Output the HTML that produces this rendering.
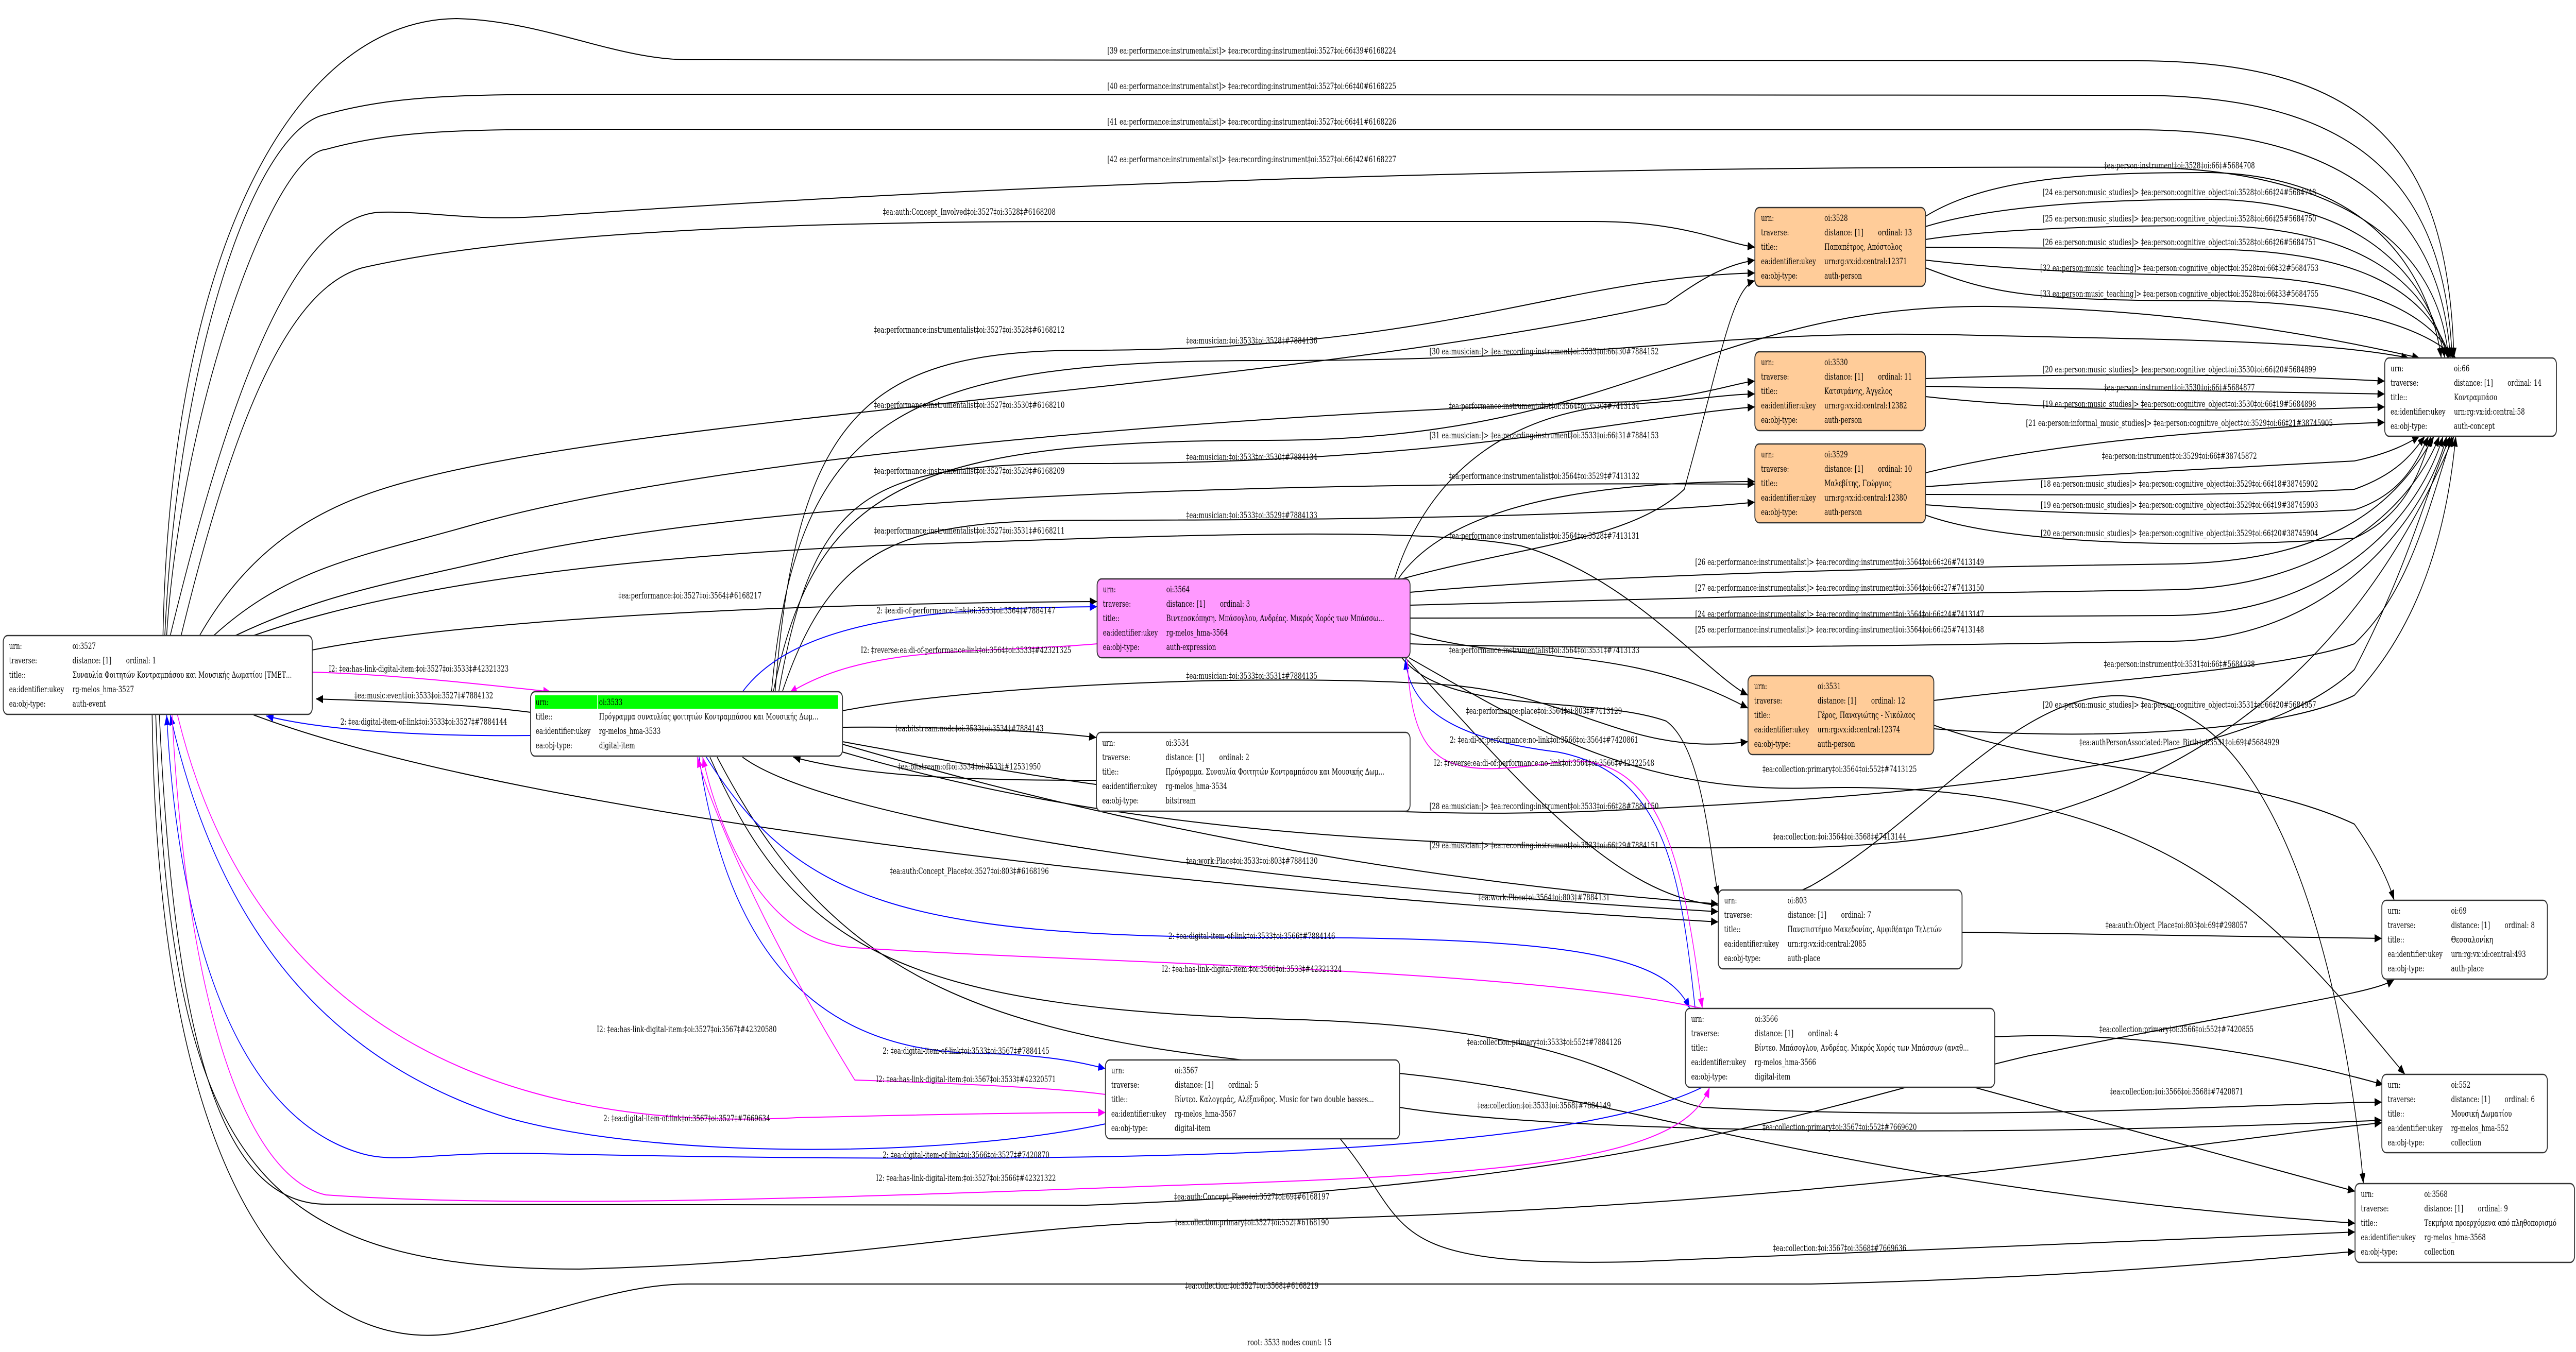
<!DOCTYPE html>
<html><head><meta charset="utf-8">
<style>
html,body{margin:0;padding:0;background:#fff;width:100%;height:100%;overflow:hidden;}
svg{display:block;width:100vw;height:100vh;}
text{font-family:"DejaVu Serif","Liberation Serif",serif;font-size:17px;fill:#000;}
.l{text-anchor:middle;}
.e{fill:none;stroke:#000;stroke-width:2;}
.b{fill:none;stroke:#0000ff;stroke-width:2;}
.m{fill:none;stroke:#ff00ff;stroke-width:2;}
.n{stroke:#333;stroke-width:2.5;}
</style></head><body>
<svg viewBox="0 0 7112 2625" preserveAspectRatio="none" xmlns="http://www.w3.org/2000/svg">
<defs>
<marker id="ak" markerUnits="userSpaceOnUse" markerWidth="22" markerHeight="16" refX="20" refY="8" orient="auto"><path d="M0,0 L20,8 L0,16 z" fill="#000"/></marker>
<marker id="ab" markerUnits="userSpaceOnUse" markerWidth="22" markerHeight="16" refX="20" refY="8" orient="auto"><path d="M0,0 L20,8 L0,16 z" fill="#00f"/></marker>
<marker id="am" markerUnits="userSpaceOnUse" markerWidth="22" markerHeight="16" refX="20" refY="8" orient="auto"><path d="M0,0 L20,8 L0,16 z" fill="#f0f"/></marker>
</defs>

<g marker-end="url(#ak)">
<path class="e" d="M450 1234 C470 500 800 40 1260 36 C1500 40 1700 116 1900 116 L5900 118 C6550 118 6760 300 6775 695"/>
<path class="e" d="M455 1234 C490 700 700 250 900 222 C1100 183 1300 183 1700 183 L5900 185 C6500 185 6750 350 6770 695"/>
<path class="e" d="M460 1234 C500 800 750 300 900 290 C1100 251 1300 251 1700 251 L5900 252 C6450 252 6740 400 6765 695"/>
<path class="e" d="M470 1234 C620 800 800 420 1050 412 C1200 410 1300 430 1500 420 C2500 370 4000 320 5900 325 C6400 325 6730 450 6760 695"/>
<path class="e" d="M500 1234 C650 800 800 560 1000 520 C1500 440 2400 430 3000 430 L4400 430 C4650 430 4750 470 4845 480"/>
<path class="e" d="M551 1234 C700 1050 900 980 1100 940 C1800 800 3500 760 4600 590 C4700 540 4760 515 4845 505"/>
<path class="e" d="M590 1234 C800 1100 1000 1080 1300 1020 C2000 880 3500 800 4500 780 C4700 770 4780 745 4845 740"/>
<path class="e" d="M650 1234 C900 1150 1100 1130 1400 1080 C2200 960 3500 935 4845 940"/>
<path class="e" d="M700 1234 C1000 1160 1500 1090 2400 1060 C3200 1040 3900 1020 4200 1060 C4500 1120 4700 1300 4826 1350"/>
<path class="e" d="M862 1262 C1400 1190 2400 1170 3029 1168"/>
<path class="e" d="M1465 1383 C1300 1368 1100 1362 872 1357"/>
<path class="e" d="M2140 1343 C2200 800 2400 680 3000 680 C4000 680 4300 540 4845 530"/>
<path class="e" d="M2150 1343 C2250 950 2400 900 3000 900 C4000 900 4500 810 4845 790"/>
<path class="e" d="M2160 1343 C2300 1050 2500 1010 3000 1010 C3800 1010 4500 1000 4845 975"/>
<path class="e" d="M2326 1380 C2700 1330 3500 1305 4000 1330 C4350 1350 4500 1470 4826 1440"/>
<path class="e" d="M2130 1343 C2200 800 2500 700 3500 700 C4500 700 4700 640 5400 650 C6000 660 6400 660 6650 695"/>
<path class="e" d="M2135 1343 C2250 950 2500 855 3500 855 C4500 855 4700 590 5500 595 C6000 600 6400 650 6680 695"/>
<path class="e" d="M3850 1124 C3950 900 4200 795 4500 785 C4700 775 4780 765 4845 765"/>
<path class="e" d="M3860 1124 C4000 980 4400 935 4845 935"/>
<path class="e" d="M3870 1124 C4200 1060 4500 1050 4650 950 C4750 700 4780 560 4845 545"/>
<path class="e" d="M3893 1230 C4200 1290 4500 1250 4826 1375"/>
<path class="e" d="M3893 1150 C4500 1110 5500 1100 6000 1095 C6400 1090 6600 1000 6720 847"/>
<path class="e" d="M3893 1175 C4500 1160 5500 1150 6000 1145 C6400 1140 6650 1000 6735 847"/>
<path class="e" d="M3893 1200 C4500 1200 5500 1200 6000 1195 C6450 1190 6680 1000 6745 847"/>
<path class="e" d="M3893 1250 C4500 1265 5500 1250 6000 1245 C6450 1240 6700 1000 6755 847"/>
<path class="e" d="M2326 1412 C2600 1410 2900 1420 3027 1432"/>
<path class="e" d="M3027 1515 C2700 1515 2400 1510 2190 1470"/>
<path class="e" d="M3870 1277 C4000 1390 4400 1350 4600 1400 C4700 1450 4720 1650 4744 1740"/>
<path class="e" d="M2326 1440 C2800 1500 3500 1600 4400 1575 C5200 1550 6200 1500 6500 1300 C6650 1100 6700 950 6765 847"/>
<path class="e" d="M2326 1460 C3000 1600 3800 1655 5000 1645 C6000 1630 6500 1300 6775 847"/>
<path class="e" d="M3890 1277 C4200 1400 4500 1540 5000 1530 C6000 1510 6300 1800 6640 2086"/>
<path class="e" d="M3880 1277 C4300 1600 4600 1860 5000 1720 C5400 1560 5700 1200 6100 1420 C6400 1600 6500 2100 6525 2298"/>
<path class="e" d="M2326 1445 C2600 1500 3500 1690 4744 1755"/>
<path class="e" d="M700 1388 C1500 1600 3500 1740 4744 1790"/>
<path class="e" d="M2050 1470 C2300 1600 3500 1720 4744 1770"/>
<path class="e" d="M1960 1470 C2200 1850 2500 1960 3600 1980 C4400 2000 4500 2120 4700 2150 C5500 2180 6300 2140 6576 2140"/>
<path class="e" d="M1980 1470 C2300 1900 2700 2030 3800 2080 C4500 2120 5000 2300 6502 2375"/>
<path class="e" d="M440 1388 C480 2000 600 2338 900 2338 L3000 2340 C4500 2300 5000 2150 5600 2050 C6300 1950 6550 1930 6610 1902"/>
<path class="e" d="M430 1388 C470 2250 700 2464 1600 2464 C2400 2450 2800 2370 3400 2370 C5000 2350 6000 2220 6576 2180"/>
<path class="e" d="M420 1388 C440 2400 900 2620 1240 2590 C1500 2560 1700 2493 1900 2493 L5000 2493 C5800 2480 6300 2440 6502 2430"/>
<path class="e" d="M3864 2150 C4300 2200 5500 2210 6576 2175"/>
<path class="e" d="M3700 2211 C3900 2380 3800 2460 4500 2450 C5500 2420 6200 2400 6502 2392"/>
<path class="e" d="M5507 2013 C5900 2000 6300 2050 6580 2106"/>
<path class="e" d="M5450 2111 L6502 2313"/>
<path class="e" d="M5417 1810 L6576 1822"/>
<path class="e" d="M5339 1408 C5700 1500 6200 1500 6500 1600 C6550 1650 6590 1700 6610 1748"/>
<path class="e" d="M5339 1360 C5800 1320 6300 1300 6500 1250 C6650 1150 6700 1000 6770 847"/>
<path class="e" d="M5339 1415 C5800 1440 6300 1420 6500 1350 C6700 1200 6760 1000 6780 847"/>
<path class="e" d="M5316 420 C5500 340 5800 335 6100 335 C6500 340 6700 500 6740 695"/>
<path class="e" d="M5316 440 C5500 400 5800 387 6100 387 C6500 390 6700 520 6750 695"/>
<path class="e" d="M5316 465 C5500 445 5800 438 6100 438 C6500 440 6700 540 6758 695"/>
<path class="e" d="M5316 480 C5500 482 5800 484 6100 484 C6500 486 6700 560 6765 695"/>
<path class="e" d="M5316 505 C5500 520 5800 534 6100 534 C6500 536 6700 600 6772 695"/>
<path class="e" d="M5316 520 C5500 570 5600 584 6100 584 C6500 586 6700 640 6780 695"/>
<path class="e" d="M5316 735 C5700 725 6200 725 6584 740"/>
<path class="e" d="M5316 750 L6584 765"/>
<path class="e" d="M5316 770 C5700 800 6200 800 6584 790"/>
<path class="e" d="M5316 918 C5600 870 6000 835 6584 820"/>
<path class="e" d="M5316 945 C5700 925 6100 910 6500 895 C6600 880 6650 860 6680 847"/>
<path class="e" d="M5316 960 C5700 960 6100 965 6500 950 C6620 920 6660 880 6695 847"/>
<path class="e" d="M5316 980 C5700 1000 6100 1005 6500 990 C6630 960 6670 900 6705 847"/>
<path class="e" d="M5316 1000 C5550 1060 6100 1065 6500 1045 C6640 1000 6680 920 6712 847"/>
</g>

<g marker-end="url(#ab)">
<path class="b" d="M1465 1428 C1200 1430 900 1420 735 1390"/>
<path class="b" d="M2050 1343 C2200 1200 2600 1180 3029 1178"/>
<path class="b" d="M4680 1958 C4640 1700 4600 1500 4300 1460 C3950 1430 3890 1350 3880 1280"/>
<path class="b" d="M1950 1470 C2200 1750 2500 1820 3500 1820 C4300 1820 4600 1850 4665 1958"/>
<path class="b" d="M1930 1470 C2000 1800 2200 2040 2700 2045 C2900 2048 3000 2065 3052 2075"/>
<path class="b" d="M3052 2182 C2600 2250 1800 2250 1400 2170 C900 2060 600 1800 470 1388"/>
<path class="b" d="M4700 2111 C4300 2250 3000 2262 1500 2240 C1200 2235 1100 2260 1000 2240 C700 2180 500 1900 460 1388"/>
</g>
<g marker-end="url(#am)">
<path class="m" d="M862 1305 C1100 1310 1350 1330 1520 1343"/>
<path class="m" d="M3029 1250 C2700 1270 2400 1250 2180 1345"/>
<path class="m" d="M3885 1280 C3900 1500 4000 1510 4300 1480 C4600 1450 4650 1700 4700 1958"/>
<path class="m" d="M4700 1958 C4200 1880 3000 1870 2360 1840 C2100 1830 1980 1600 1940 1470"/>
<path class="m" d="M490 1388 C700 2000 1400 2200 2200 2170 C2800 2160 3000 2160 3052 2160"/>
<path class="m" d="M3052 2125 C2900 2110 2500 2100 2360 2097 C2100 1800 1960 1560 1925 1470"/>
<path class="m" d="M475 1388 C520 2000 700 2290 900 2320 C1500 2350 2500 2320 3300 2300 C4200 2280 4650 2250 4720 2111"/>
</g>

<g>
<text class="l" x="3456" y="104">[39 ea:performance:instrumentalist]&gt; ‡ea:recording:instrument‡oi:3527‡oi:66‡39#6168224</text>
<text class="l" x="3456" y="173">[40 ea:performance:instrumentalist]&gt; ‡ea:recording:instrument‡oi:3527‡oi:66‡40#6168225</text>
<text class="l" x="3456" y="242">[41 ea:performance:instrumentalist]&gt; ‡ea:recording:instrument‡oi:3527‡oi:66‡41#6168226</text>
<text class="l" x="3456" y="315">[42 ea:performance:instrumentalist]&gt; ‡ea:recording:instrument‡oi:3527‡oi:66‡42#6168227</text>
<text class="l" x="2676" y="417">‡ea:auth:Concept_Involved‡oi:3527‡oi:3528‡#6168208</text>
<text class="l" x="2676" y="646">‡ea:performance:instrumentalist‡oi:3527‡oi:3528‡#6168212</text>
<text class="l" x="2676" y="792">‡ea:performance:instrumentalist‡oi:3527‡oi:3530‡#6168210</text>
<text class="l" x="2676" y="920">‡ea:performance:instrumentalist‡oi:3527‡oi:3529‡#6168209</text>
<text class="l" x="2676" y="1036">‡ea:performance:instrumentalist‡oi:3527‡oi:3531‡#6168211</text>
<text class="l" x="1905" y="1162">‡ea:performance:‡oi:3527‡oi:3564‡#6168217</text>
<text class="l" x="1156" y="1304">I2: ‡ea:has-link-digital-item:‡oi:3527‡oi:3533‡#42321323</text>
<text class="l" x="1170" y="1356">‡ea:music:event‡oi:3533‡oi:3527‡#7884132</text>
<text class="l" x="1170" y="1407">2: ‡ea:digital-item-of:link‡oi:3533‡oi:3527‡#7884144</text>
<text class="l" x="3456" y="667">‡ea:musician:‡oi:3533‡oi:3528‡#7884136</text>
<text class="l" x="3456" y="893">‡ea:musician:‡oi:3533‡oi:3530‡#7884134</text>
<text class="l" x="3456" y="1006">‡ea:musician:‡oi:3533‡oi:3529‡#7884133</text>
<text class="l" x="3456" y="1318">‡ea:musician:‡oi:3533‡oi:3531‡#7884135</text>
<text class="l" x="4263" y="688">[30 ea:musician:]&gt; ‡ea:recording:instrument‡oi:3533‡oi:66‡30#7884152</text>
<text class="l" x="4263" y="851">[31 ea:musician:]&gt; ‡ea:recording:instrument‡oi:3533‡oi:66‡31#7884153</text>
<text class="l" x="4263" y="794">‡ea:performance:instrumentalist‡oi:3564‡oi:3530‡#7413134</text>
<text class="l" x="4263" y="930">‡ea:performance:instrumentalist‡oi:3564‡oi:3529‡#7413132</text>
<text class="l" x="4263" y="1046">‡ea:performance:instrumentalist‡oi:3564‡oi:3528‡#7413131</text>
<text class="l" x="4263" y="1268">‡ea:performance:instrumentalist‡oi:3564‡oi:3531‡#7413133</text>
<text class="l" x="2667" y="1191">2: ‡ea:di-of-performance:link‡oi:3533‡oi:3564‡#7884147</text>
<text class="l" x="2667" y="1268">I2: ‡reverse:ea:di-of-performance:link‡oi:3564‡oi:3533‡#42321325</text>
<text class="l" x="5079" y="1097">[26 ea:performance:instrumentalist]&gt; ‡ea:recording:instrument‡oi:3564‡oi:66‡26#7413149</text>
<text class="l" x="5079" y="1147">[27 ea:performance:instrumentalist]&gt; ‡ea:recording:instrument‡oi:3564‡oi:66‡27#7413150</text>
<text class="l" x="5079" y="1198">[24 ea:performance:instrumentalist]&gt; ‡ea:recording:instrument‡oi:3564‡oi:66‡24#7413147</text>
<text class="l" x="5079" y="1228">[25 ea:performance:instrumentalist]&gt; ‡ea:recording:instrument‡oi:3564‡oi:66‡25#7413148</text>
<text class="l" x="2676" y="1420">‡ea:bitstream:node‡oi:3533‡oi:3534‡#7884143</text>
<text class="l" x="2676" y="1494">‡ea:bitstream:of‡oi:3534‡oi:3533‡#12531950</text>
<text class="l" x="4263" y="1386">‡ea:performance:place‡oi:3564‡oi:803‡#7413129</text>
<text class="l" x="4263" y="1442">2: ‡ea:di-of:performance:no-link‡oi:3566‡oi:3564‡#7420861</text>
<text class="l" x="4263" y="1487">I2: ‡reverse:ea:di-of:performance:no-link‡oi:3564‡oi:3566‡#42322548</text>
<text class="l" x="4263" y="1571">[28 ea:musician:]&gt; ‡ea:recording:instrument‡oi:3533‡oi:66‡28#7884150</text>
<text class="l" x="4263" y="1647">[29 ea:musician:]&gt; ‡ea:recording:instrument‡oi:3533‡oi:66‡29#7884151</text>
<text class="l" x="5079" y="1499">‡ea:collection:primary‡oi:3564‡oi:552‡#7413125</text>
<text class="l" x="5079" y="1630">‡ea:collection:‡oi:3564‡oi:3568‡#7413144</text>
<text class="l" x="3456" y="1677">‡ea:work:Place‡oi:3533‡oi:803‡#7884130</text>
<text class="l" x="2676" y="1697">‡ea:auth:Concept_Place‡oi:3527‡oi:803‡#6168196</text>
<text class="l" x="4263" y="1748">‡ea:work:Place‡oi:3564‡oi:803‡#7884131</text>
<text class="l" x="3456" y="1823">2: ‡ea:digital-item-of:link‡oi:3533‡oi:3566‡#7884146</text>
<text class="l" x="3456" y="1887">I2: ‡ea:has-link-digital-item:‡oi:3566‡oi:3533‡#42321324</text>
<text class="l" x="4263" y="2029">‡ea:collection:primary‡oi:3533‡oi:552‡#7884126</text>
<text class="l" x="4263" y="2152">‡ea:collection:‡oi:3533‡oi:3568‡#7884149</text>
<text class="l" x="1896" y="2004">I2: ‡ea:has-link-digital-item:‡oi:3527‡oi:3567‡#42320580</text>
<text class="l" x="2667" y="2046">2: ‡ea:digital-item-of:link‡oi:3533‡oi:3567‡#7884145</text>
<text class="l" x="2667" y="2101">I2: ‡ea:has-link-digital-item:‡oi:3567‡oi:3533‡#42320571</text>
<text class="l" x="1896" y="2177">2: ‡ea:digital-item-of:link‡oi:3567‡oi:3527‡#7669634</text>
<text class="l" x="2667" y="2248">2: ‡ea:digital-item-of:link‡oi:3566‡oi:3527‡#7420870</text>
<text class="l" x="2667" y="2293">I2: ‡ea:has-link-digital-item:‡oi:3527‡oi:3566‡#42321322</text>
<text class="l" x="3456" y="2329">‡ea:auth:Concept_Place‡oi:3527‡oi:69‡#6168197</text>
<text class="l" x="3456" y="2379">‡ea:collection:primary‡oi:3527‡oi:552‡#6168190</text>
<text class="l" x="5079" y="2194">‡ea:collection:primary‡oi:3567‡oi:552‡#7669620</text>
<text class="l" x="5079" y="2429">‡ea:collection:‡oi:3567‡oi:3568‡#7669636</text>
<text class="l" x="3456" y="2502">‡ea:collection:‡oi:3527‡oi:3568‡#6168219</text>
<text class="l" x="6009" y="2004">‡ea:collection:primary‡oi:3566‡oi:552‡#7420855</text>
<text class="l" x="6009" y="2125">‡ea:collection:‡oi:3566‡oi:3568‡#7420871</text>
<text class="l" x="6009" y="1802">‡ea:auth:Object_Place‡oi:803‡oi:69‡#298057</text>
<text class="l" x="6017" y="327">‡ea:person:instrument‡oi:3528‡oi:66‡#5684708</text>
<text class="l" x="6017" y="379">[24 ea:person:music_studies]&gt; ‡ea:person:cognitive_object‡oi:3528‡oi:66‡24#5684748</text>
<text class="l" x="6017" y="430">[25 ea:person:music_studies]&gt; ‡ea:person:cognitive_object‡oi:3528‡oi:66‡25#5684750</text>
<text class="l" x="6017" y="476">[26 ea:person:music_studies]&gt; ‡ea:person:cognitive_object‡oi:3528‡oi:66‡26#5684751</text>
<text class="l" x="6017" y="526">[32 ea:person:music_teaching]&gt; ‡ea:person:cognitive_object‡oi:3528‡oi:66‡32#5684753</text>
<text class="l" x="6017" y="576">[33 ea:person:music_teaching]&gt; ‡ea:person:cognitive_object‡oi:3528‡oi:66‡33#5684755</text>
<text class="l" x="6017" y="723">[20 ea:person:music_studies]&gt; ‡ea:person:cognitive_object‡oi:3530‡oi:66‡20#5684899</text>
<text class="l" x="6017" y="758">‡ea:person:instrument‡oi:3530‡oi:66‡#5684877</text>
<text class="l" x="6017" y="790">[19 ea:person:music_studies]&gt; ‡ea:person:cognitive_object‡oi:3530‡oi:66‡19#5684898</text>
<text class="l" x="6017" y="827">[21 ea:person:informal_music_studies]&gt; ‡ea:person:cognitive_object‡oi:3529‡oi:66‡21#38745905</text>
<text class="l" x="6017" y="891">‡ea:person:instrument‡oi:3529‡oi:66‡#38745872</text>
<text class="l" x="6017" y="945">[18 ea:person:music_studies]&gt; ‡ea:person:cognitive_object‡oi:3529‡oi:66‡18#38745902</text>
<text class="l" x="6017" y="986">[19 ea:person:music_studies]&gt; ‡ea:person:cognitive_object‡oi:3529‡oi:66‡19#38745903</text>
<text class="l" x="6017" y="1041">[20 ea:person:music_studies]&gt; ‡ea:person:cognitive_object‡oi:3529‡oi:66‡20#38745904</text>
<text class="l" x="6017" y="1295">‡ea:person:instrument‡oi:3531‡oi:66‡#5684938</text>
<text class="l" x="6017" y="1374">[20 ea:person:music_studies]&gt; ‡ea:person:cognitive_object‡oi:3531‡oi:66‡20#5684957</text>
<text class="l" x="6017" y="1447">‡ea:authPersonAssociated:Place_Birth‡oi:3531‡oi:69‡#5684929</text>
<text class="l" x="3560" y="2612">root: 3533 nodes count: 15</text>
</g>

<rect class="n" x="9" y="1234" width="853" height="153" rx="12" fill="#fff"/>
<g transform="translate(25,1260)"><text y="0">urn:</text><text x="175" y="0">oi:3527</text><text y="28">traverse:</text><text x="175" y="28">distance: [1]</text><text x="323" y="28">ordinal: 1</text><text y="56">title::</text><text x="175" y="56">Συναυλία Φοιτητών Κοντραμπάσου και Μουσικής Δωματίου [ΤΜΕΤ...</text><text y="84">ea:identifier:ukey</text><text x="175" y="84">rg-melos_hma-3527</text><text y="112">ea:obj-type:</text><text x="175" y="112">auth-event</text></g>
<rect class="n" x="1465" y="1343" width="861" height="125" rx="12" fill="#fff"/>
<rect x="1477" y="1350" width="837" height="26" fill="#00ff00"/>
<line x1="1650" y1="1350" x2="1650" y2="1376" stroke="#fff" stroke-width="2"/>
<g transform="translate(1479,1369)"><text y="0">urn:</text><text x="175" y="0">oi:3533</text><text y="28">title::</text><text x="175" y="28">Πρόγραμμα συναυλίας φοιτητών Κοντραμπάσου και Μουσικής Δωμ...</text><text y="56">ea:identifier:ukey</text><text x="175" y="56">rg-melos_hma-3533</text><text y="84">ea:obj-type:</text><text x="175" y="84">digital-item</text></g>
<rect class="n" x="3029" y="1124" width="864" height="153" rx="12" fill="#ff99ff"/>
<g transform="translate(3045,1150)"><text y="0">urn:</text><text x="175" y="0">oi:3564</text><text y="28">traverse:</text><text x="175" y="28">distance: [1]</text><text x="323" y="28">ordinal: 3</text><text y="56">title::</text><text x="175" y="56">Βιντεοσκόπηση. Μπάσογλου, Ανδρέας. Μικρός Χορός των Μπάσσω...</text><text y="84">ea:identifier:ukey</text><text x="175" y="84">rg-melos_hma-3564</text><text y="112">ea:obj-type:</text><text x="175" y="112">auth-expression</text></g>
<rect class="n" x="3027" y="1422" width="866" height="153" rx="12" fill="#fff"/>
<g transform="translate(3043,1448)"><text y="0">urn:</text><text x="175" y="0">oi:3534</text><text y="28">traverse:</text><text x="175" y="28">distance: [1]</text><text x="323" y="28">ordinal: 2</text><text y="56">title::</text><text x="175" y="56">Πρόγραμμα. Συναυλία Φοιτητών Κοντραμπάσου και Μουσικής Δωμ...</text><text y="84">ea:identifier:ukey</text><text x="175" y="84">rg-melos_hma-3534</text><text y="112">ea:obj-type:</text><text x="175" y="112">bitstream</text></g>
<rect class="n" x="3052" y="2058" width="812" height="153" rx="12" fill="#fff"/>
<g transform="translate(3068,2084)"><text y="0">urn:</text><text x="175" y="0">oi:3567</text><text y="28">traverse:</text><text x="175" y="28">distance: [1]</text><text x="323" y="28">ordinal: 5</text><text y="56">title::</text><text x="175" y="56">Βίντεο. Καλογεράς, Αλέξανδρος. Music for two double basses...</text><text y="84">ea:identifier:ukey</text><text x="175" y="84">rg-melos_hma-3567</text><text y="112">ea:obj-type:</text><text x="175" y="112">digital-item</text></g>
<rect class="n" x="4845" y="403" width="471" height="153" rx="12" fill="#ffcc99"/>
<g transform="translate(4862,429)"><text y="0">urn:</text><text x="175" y="0">oi:3528</text><text y="28">traverse:</text><text x="175" y="28">distance: [1]</text><text x="323" y="28">ordinal: 13</text><text y="56">title::</text><text x="175" y="56">Παπαπέτρος, Απόστολος</text><text y="84">ea:identifier:ukey</text><text x="175" y="84">urn:rg:vx:id:central:12371</text><text y="112">ea:obj-type:</text><text x="175" y="112">auth-person</text></g>
<rect class="n" x="4845" y="683" width="471" height="153" rx="12" fill="#ffcc99"/>
<g transform="translate(4862,709)"><text y="0">urn:</text><text x="175" y="0">oi:3530</text><text y="28">traverse:</text><text x="175" y="28">distance: [1]</text><text x="323" y="28">ordinal: 11</text><text y="56">title::</text><text x="175" y="56">Κατσιμάνης, Άγγελος</text><text y="84">ea:identifier:ukey</text><text x="175" y="84">urn:rg:vx:id:central:12382</text><text y="112">ea:obj-type:</text><text x="175" y="112">auth-person</text></g>
<rect class="n" x="4845" y="862" width="471" height="153" rx="12" fill="#ffcc99"/>
<g transform="translate(4862,888)"><text y="0">urn:</text><text x="175" y="0">oi:3529</text><text y="28">traverse:</text><text x="175" y="28">distance: [1]</text><text x="323" y="28">ordinal: 10</text><text y="56">title::</text><text x="175" y="56">Μαλεβίτης, Γεώργιος</text><text y="84">ea:identifier:ukey</text><text x="175" y="84">urn:rg:vx:id:central:12380</text><text y="112">ea:obj-type:</text><text x="175" y="112">auth-person</text></g>
<rect class="n" x="4826" y="1312" width="513" height="153" rx="12" fill="#ffcc99"/>
<g transform="translate(4843,1338)"><text y="0">urn:</text><text x="175" y="0">oi:3531</text><text y="28">traverse:</text><text x="175" y="28">distance: [1]</text><text x="323" y="28">ordinal: 12</text><text y="56">title::</text><text x="175" y="56">Γέρος, Παναγιώτης - Νικόλαος</text><text y="84">ea:identifier:ukey</text><text x="175" y="84">urn:rg:vx:id:central:12374</text><text y="112">ea:obj-type:</text><text x="175" y="112">auth-person</text></g>
<rect class="n" x="4744" y="1728" width="673" height="153" rx="12" fill="#fff"/>
<g transform="translate(4760,1754)"><text y="0">urn:</text><text x="175" y="0">oi:803</text><text y="28">traverse:</text><text x="175" y="28">distance: [1]</text><text x="323" y="28">ordinal: 7</text><text y="56">title::</text><text x="175" y="56">Πανεπιστήμιο Μακεδονίας, Αμφιθέατρο Τελετών</text><text y="84">ea:identifier:ukey</text><text x="175" y="84">urn:rg:vx:id:central:2085</text><text y="112">ea:obj-type:</text><text x="175" y="112">auth-place</text></g>
<rect class="n" x="4653" y="1958" width="854" height="153" rx="12" fill="#fff"/>
<g transform="translate(4669,1984)"><text y="0">urn:</text><text x="175" y="0">oi:3566</text><text y="28">traverse:</text><text x="175" y="28">distance: [1]</text><text x="323" y="28">ordinal: 4</text><text y="56">title::</text><text x="175" y="56">Βίντεο. Μπάσογλου, Ανδρέας. Μικρός Χορός των Μπάσσων (αναθ...</text><text y="84">ea:identifier:ukey</text><text x="175" y="84">rg-melos_hma-3566</text><text y="112">ea:obj-type:</text><text x="175" y="112">digital-item</text></g>
<rect class="n" x="6584" y="695" width="474" height="152" rx="12" fill="#fff"/>
<g transform="translate(6600,721)"><text y="0">urn:</text><text x="175" y="0">oi:66</text><text y="28">traverse:</text><text x="175" y="28">distance: [1]</text><text x="323" y="28">ordinal: 14</text><text y="56">title::</text><text x="175" y="56">Κοντραμπάσο</text><text y="84">ea:identifier:ukey</text><text x="175" y="84">urn:rg:vx:id:central:58</text><text y="112">ea:obj-type:</text><text x="175" y="112">auth-concept</text></g>
<rect class="n" x="6576" y="1748" width="457" height="153" rx="12" fill="#fff"/>
<g transform="translate(6592,1774)"><text y="0">urn:</text><text x="175" y="0">oi:69</text><text y="28">traverse:</text><text x="175" y="28">distance: [1]</text><text x="323" y="28">ordinal: 8</text><text y="56">title::</text><text x="175" y="56">Θεσσαλονίκη</text><text y="84">ea:identifier:ukey</text><text x="175" y="84">urn:rg:vx:id:central:493</text><text y="112">ea:obj-type:</text><text x="175" y="112">auth-place</text></g>
<rect class="n" x="6576" y="2086" width="457" height="152" rx="12" fill="#fff"/>
<g transform="translate(6592,2112)"><text y="0">urn:</text><text x="175" y="0">oi:552</text><text y="28">traverse:</text><text x="175" y="28">distance: [1]</text><text x="323" y="28">ordinal: 6</text><text y="56">title::</text><text x="175" y="56">Μουσική Δωματίου</text><text y="84">ea:identifier:ukey</text><text x="175" y="84">rg-melos_hma-552</text><text y="112">ea:obj-type:</text><text x="175" y="112">collection</text></g>
<rect class="n" x="6502" y="2298" width="606" height="153" rx="12" fill="#fff"/>
<g transform="translate(6518,2324)"><text y="0">urn:</text><text x="175" y="0">oi:3568</text><text y="28">traverse:</text><text x="175" y="28">distance: [1]</text><text x="323" y="28">ordinal: 9</text><text y="56">title::</text><text x="175" y="56">Τεκμήρια προερχόμενα από πληθοπορισμό</text><text y="84">ea:identifier:ukey</text><text x="175" y="84">rg-melos_hma-3568</text><text y="112">ea:obj-type:</text><text x="175" y="112">collection</text></g>
</svg>
</body></html>
